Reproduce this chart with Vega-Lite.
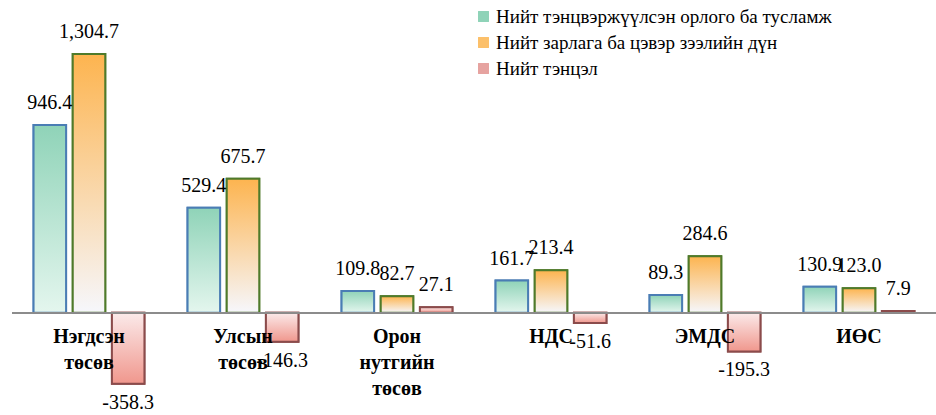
{
  "$schema": "https://vega.github.io/schema/vega-lite/v6.json",
  "autosize": "none",
  "width": 924,
  "height": 357,
  "padding": {"left": 12, "top": 35, "right": 0, "bottom": 23},
  "background": "white",
  "config": {"view": {"stroke": null}, "font": "Liberation Serif",
    "locale": {"number": {"decimal": ".", "thousands": ",", "grouping": [3], "currency": ["$", ""], "minus": "-"}}},
  "data": {
    "values": [
      {"category": "Нэгдсэн\nтөсөв", "series": "Нийт тэнцвэржүүлсэн орлого ба тусламж", "value": 946.4},
      {"category": "Нэгдсэн\nтөсөв", "series": "Нийт зарлага ба цэвэр зээлийн дүн", "value": 1304.7},
      {"category": "Нэгдсэн\nтөсөв", "series": "Нийт тэнцэл", "value": -358.3},
      {"category": "Улсын\nтөсөв", "series": "Нийт тэнцвэржүүлсэн орлого ба тусламж", "value": 529.4},
      {"category": "Улсын\nтөсөв", "series": "Нийт зарлага ба цэвэр зээлийн дүн", "value": 675.7},
      {"category": "Улсын\nтөсөв", "series": "Нийт тэнцэл", "value": -146.3},
      {"category": "Орон\nнутгийн\nтөсөв", "series": "Нийт тэнцвэржүүлсэн орлого ба тусламж", "value": 109.8},
      {"category": "Орон\nнутгийн\nтөсөв", "series": "Нийт зарлага ба цэвэр зээлийн дүн", "value": 82.7},
      {"category": "Орон\nнутгийн\nтөсөв", "series": "Нийт тэнцэл", "value": 27.1},
      {"category": "НДС", "series": "Нийт тэнцвэржүүлсэн орлого ба тусламж", "value": 161.7},
      {"category": "НДС", "series": "Нийт зарлага ба цэвэр зээлийн дүн", "value": 213.4},
      {"category": "НДС", "series": "Нийт тэнцэл", "value": -51.6},
      {"category": "ЭМДС", "series": "Нийт тэнцвэржүүлсэн орлого ба тусламж", "value": 89.3},
      {"category": "ЭМДС", "series": "Нийт зарлага ба цэвэр зээлийн дүн", "value": 284.6},
      {"category": "ЭМДС", "series": "Нийт тэнцэл", "value": -195.3},
      {"category": "ИӨС", "series": "Нийт тэнцвэржүүлсэн орлого ба тусламж", "value": 130.9},
      {"category": "ИӨС", "series": "Нийт зарлага ба цэвэр зээлийн дүн", "value": 123.0},
      {"category": "ИӨС", "series": "Нийт тэнцэл", "value": 7.9}
    ]
  },
  "encoding": {
    "x": {"field": "category", "type": "nominal", "sort": null, "axis": null,
          "scale": {"paddingInner": 0.28, "paddingOuter": 0.14}},
    "xOffset": {"field": "series", "type": "nominal", "sort": null,
          "scale": {"paddingInner": 0.17, "paddingOuter": 0}},
    "y": {"field": "value", "type": "quantitative", "axis": null,
          "scale": {"domain": [-400, 1400], "nice": false, "zero": true}}
  },
  "layer": [
    {
      "mark": {"type": "bar", "strokeWidth": 2},
      "encoding": {
        "fill": {"field": "series", "type": "nominal", "sort": null,
          "scale": {"range": ["#8fd3b8", "#fcc06a", "#e6a3a0"]},
          "legend": {"orient": "none", "legendX": 462, "legendY": -28, "title": null,
            "symbolType": "square", "symbolSize": 120, "labelFont": "Liberation Serif",
            "labelFontSize": 19, "labelColor": "#000", "rowPadding": 6, "symbolStrokeWidth": 1.5,
            "labelOffset": 3, "labelLimit": 400}},
        "stroke": {"field": "series", "type": "nominal", "sort": null,
          "scale": {"range": ["#4a7db4", "#4f7a2a", "#8b4b4b"]}}
      }
    },
    {
      "mark": {"type": "bar", "strokeWidth": 2},
      "encoding": {
        "fill": {
          "condition": [
            {"test": "datum.series === 'Нийт тэнцвэржүүлсэн орлого ба тусламж'",
             "value": {"gradient": "linear", "x1": 0, "y1": 0, "x2": 0, "y2": 1,
               "stops": [{"offset": 0, "color": "#8fd3b8"}, {"offset": 1, "color": "#e4f6ee"}]}},
            {"test": "datum.series === 'Нийт зарлага ба цэвэр зээлийн дүн'",
             "value": {"gradient": "linear", "x1": 0, "y1": 0, "x2": 0, "y2": 1,
               "stops": [{"offset": 0, "color": "#fdb44f"}, {"offset": 1, "color": "#f6f7fc"}]}}
          ],
          "value": {"gradient": "linear", "x1": 0, "y1": 0, "x2": 0, "y2": 1,
            "stops": [{"offset": 0, "color": "#fbeaea"}, {"offset": 1, "color": "#f0978d"}]}
        },
        "stroke": {"field": "series", "type": "nominal", "sort": null}
      }
    },
    {
      "mark": {"type": "rule", "color": "#8c8c8c", "strokeWidth": 1.2},
      "encoding": {"x": {"value": 0}, "x2": {"value": 924}, "y": {"datum": 0}, "xOffset": null}
    },
    {
      "transform": [{"filter": "datum.value >= 0"}],
      "mark": {"type": "text", "baseline": "alphabetic", "dy": -16, "fontSize": 20, "font": "Liberation Serif", "color": "#000"},
      "encoding": {"text": {"field": "value", "type": "quantitative", "format": ",.1f"}}
    },
    {
      "transform": [{"filter": "datum.value < 0"}],
      "mark": {"type": "text", "baseline": "top", "dy": 9, "fontSize": 20, "font": "Liberation Serif", "color": "#000"},
      "encoding": {"text": {"field": "value", "type": "quantitative", "format": ",.1f"}}
    },
    {
      "transform": [{"filter": "datum.series === 'Нийт тэнцэл'"}],
      "mark": {"type": "text", "baseline": "top", "dy": 14, "fontSize": 20, "fontWeight": "bold",
               "font": "Liberation Serif", "color": "#000", "lineBreak": "\n", "lineHeight": 26},
      "encoding": {"text": {"field": "category"}, "y": {"datum": 0}, "xOffset": null}
    }
  ]
}
